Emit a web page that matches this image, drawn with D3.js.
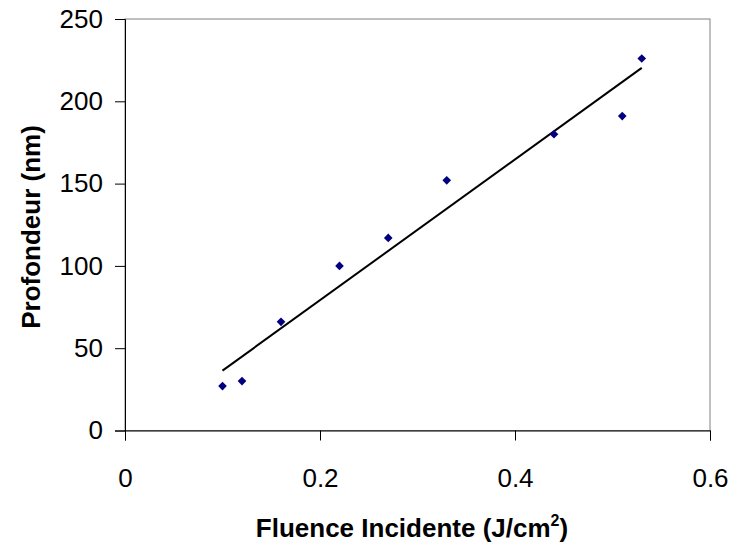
<!DOCTYPE html>
<html>
<head>
<meta charset="utf-8">
<script src="https://cdn.jsdelivr.net/npm/d3@7"></script>
<style>
  body { margin: 0; background: #fff; }
  svg { font-family: Arial, "Liberation Sans", sans-serif; }
</style>
</head>
<body>
<div id="chart"></div>
<script>
// Fluence (J/cm2) vs depth (nm)
var fluence = [0.10, 0.12, 0.16, 0.22, 0.27, 0.33, 0.44, 0.51, 0.53];
var profondeur = [27, 30, 66, 100, 117, 152, 180, 191, 226];
var xTicks = [0, 0.2, 0.4, 0.6];
var yTicks = [0, 50, 100, 150, 200, 250];

var width = 734, height = 545;
var margin = {top: 19, right: 24, bottom: 114.5, left: 125};
var w = width - margin.left - margin.right,
    h = height - margin.top - margin.bottom;

var svg = d3.select('#chart').append('svg')
    .attr('width', width)
    .attr('height', height);

var g = svg.append('g')
    .attr('transform', 'translate(' + margin.left + ',' + margin.top + ')');

var x = d3.scaleLinear().domain([0, 0.6]).range([0, w]);
var y = d3.scaleLinear().domain([0, 250]).range([h, 0]);

// plot area border
g.append('rect')
    .attr('x', 0).attr('y', 0)
    .attr('width', w).attr('height', h)
    .attr('fill', 'none')
    .attr('stroke', '#808080')
    .attr('stroke-width', 1);

// axes
var xAxis = d3.axisBottom(x).tickValues(xTicks).tickSize(10).tickPadding(28)
    .tickFormat(function (d) { return d === 0 ? '0' : d3.format('.1f')(d); });
var yAxis = d3.axisLeft(y).tickValues(yTicks).tickSize(10).tickPadding(12);

var gx = g.append('g')
    .attr('transform', 'translate(0,' + h + ')')
    .call(xAxis);
var gy = g.append('g').call(yAxis);

[gx, gy].forEach(function (a) {
    a.select('.domain').attr('stroke', '#000');
    a.selectAll('.tick line').attr('stroke', '#000');
    a.selectAll('.tick text')
        .attr('fill', '#000')
        .style('font-size', '26px')
        .style('font-family', 'Arial, "Liberation Sans", sans-serif');
});

// least squares trend line from the data
var xm = d3.mean(fluence), ym = d3.mean(profondeur);
var sxy = d3.sum(fluence, function (d, i) { return (d - xm) * (profondeur[i] - ym); });
var sxx = d3.sum(fluence, function (d) { return (d - xm) * (d - xm); });
var slope = sxy / sxx, intercept = ym - slope * xm;
var xExt = d3.extent(fluence);

g.append('line')
    .attr('x1', x(xExt[0])).attr('y1', y(intercept + slope * xExt[0]))
    .attr('x2', x(xExt[1])).attr('y2', y(intercept + slope * xExt[1]))
    .attr('stroke', '#000')
    .attr('stroke-width', 2);

// markers
var diamond = d3.symbol().type(d3.symbolDiamond2).size(48);
g.selectAll('path.pt')
    .data(fluence)
    .enter().append('path')
    .attr('class', 'pt')
    .attr('d', diamond)
    .attr('transform', function (d, i) { return 'translate(' + x(d) + ',' + y(profondeur[i]) + ')'; })
    .attr('fill', '#000080');

// axis labels
var xLabel = svg.append('text')
    .attr('x', 412)
    .attr('y', 537)
    .attr('text-anchor', 'middle')
    .style('font-size', '26px')
    .style('font-weight', 'bold')
    .text('Fluence Incidente (J/cm');
xLabel.append('tspan').attr('dy', -11).style('font-size', '16px').text('2');
xLabel.append('tspan').attr('dy', 11).text(')');

svg.append('text')
    .attr('transform', 'translate(40,' + 227 + ') rotate(-90)')
    .attr('text-anchor', 'middle')
    .style('font-size', '26px')
    .style('font-weight', 'bold')
    .text('Profondeur (nm)');
</script>
</body>
</html>
